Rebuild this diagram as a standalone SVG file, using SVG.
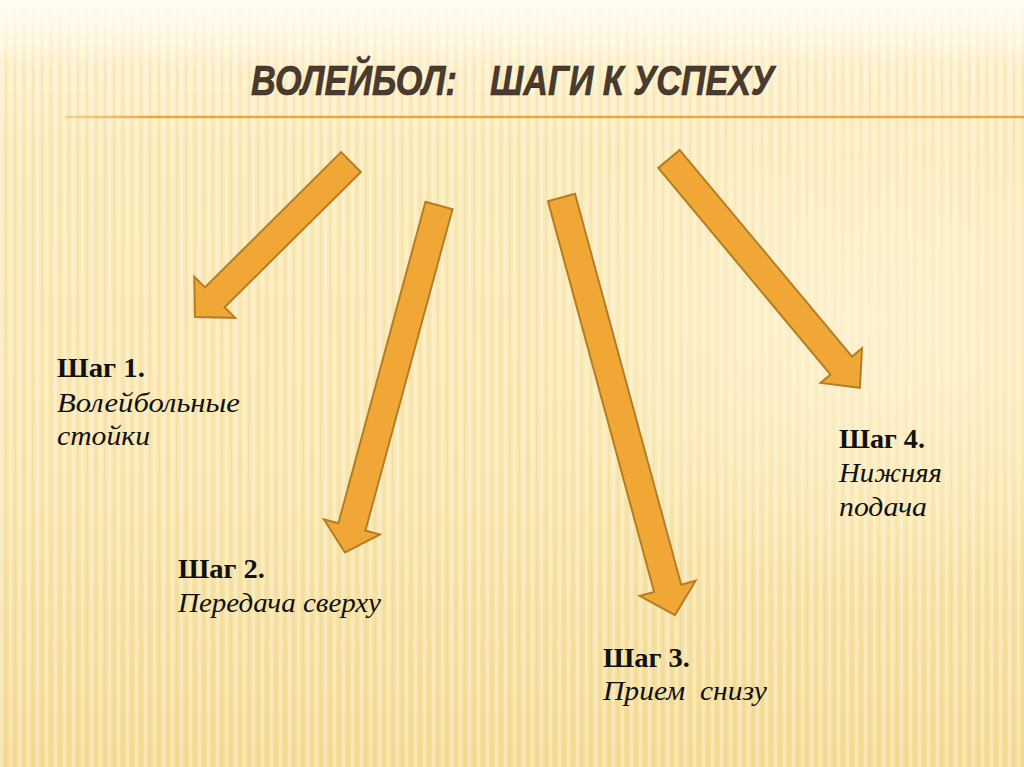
<svg xmlns="http://www.w3.org/2000/svg" width="1024" height="767" viewBox="0 0 1024 767">
  <defs>
    <linearGradient id="bg" x1="0" y1="0" x2="0" y2="1">
      <stop offset="0" stop-color="#FFF9E6"/>
      <stop offset="0.08" stop-color="#FDF0CA"/>
      <stop offset="0.2" stop-color="#FBEBBA"/>
      <stop offset="0.6" stop-color="#FAE8B2"/>
      <stop offset="1" stop-color="#F5DC98"/>
    </linearGradient>
    <radialGradient id="glow" cx="0.85" cy="0.42" r="0.35">
      <stop offset="0" stop-color="#FFF6DA" stop-opacity="0.7"/>
      <stop offset="1" stop-color="#FFF6DA" stop-opacity="0"/>
    </radialGradient>
    <linearGradient id="topfade" x1="0" y1="0" x2="0" y2="1">
      <stop offset="0" stop-color="#FFFCF2" stop-opacity="0.9"/>
      <stop offset="1" stop-color="#FFFCF2" stop-opacity="0"/>
    </linearGradient>
    <pattern id="stripes" width="9" height="20" patternUnits="userSpaceOnUse">
      <rect x="0" y="0" width="3" height="20" fill="#FFFFFF" opacity="0.28"/>
      <rect x="5" y="0" width="2" height="20" fill="#D9B766" opacity="0.12"/>
    </pattern>
    <linearGradient id="rule" gradientUnits="userSpaceOnUse" x1="65" y1="0" x2="1024" y2="0">
      <stop offset="0" stop-color="#E8A540" stop-opacity="0.4"/>
      <stop offset="0.1" stop-color="#E8A540"/>
      <stop offset="1" stop-color="#E8A540"/>
    </linearGradient>
    <style>
      .arrow { fill: #F1A736; stroke: #B47D25; stroke-width: 2; stroke-linejoin: miter; }
      .title { font-family: "Liberation Sans", "DejaVu Sans", sans-serif; font-weight: bold; font-style: italic; font-size: 42px; fill: #4A3B2E; stroke: #2E241B; stroke-width: 0.6; }
      .head { font-family: "Liberation Serif", "DejaVu Serif", serif; font-weight: bold; font-size: 27px; fill: #111111; }
      .body { font-family: "Liberation Serif", "DejaVu Serif", serif; font-style: italic; font-size: 27px; fill: #111111; }
    </style>
  </defs>

  <!-- background -->
  <rect x="0" y="0" width="1024" height="767" fill="url(#bg)"/>
  <rect x="0" y="0" width="1024" height="767" fill="url(#stripes)"/>
  <rect x="0" y="0" width="1024" height="767" fill="url(#glow)"/>
  <rect x="0" y="0" width="1024" height="70" fill="url(#topfade)"/>

  <!-- title -->
  <g id="title">
    <text class="title" x="251" y="95" textLength="206" lengthAdjust="spacingAndGlyphs">ВОЛЕЙБОЛ:</text>
    <text class="title" x="490" y="95" textLength="284" lengthAdjust="spacingAndGlyphs">ШАГИ К УСПЕХУ</text>
    <line x1="65" y1="117" x2="1024" y2="117" stroke="url(#rule)" stroke-width="2.5"/>
  </g>

  <!-- connectors -->
  <g id="connectors">
    <path class="arrow" transform="translate(351,162) rotate(135.2)" d="M0,-14 L192,-14 L192,-29 L220,0 L192,29 L192,14 L0,14 Z"/>
    <path class="arrow" transform="translate(439,205.5) rotate(105.16)" d="M0,-14 L333,-14 L333,-29 L359.5,0 L333,29 L333,14 L0,14 Z"/>
    <path class="arrow" transform="translate(561.5,197.5) rotate(74.8)" d="M0,-14 L405,-14 L405,-29 L432.7,0 L405,29 L405,14 L0,14 Z"/>
    <path class="arrow" transform="translate(669,159) rotate(50.17)" d="M0,-14 L269,-14 L269,-27 L298,0 L269,27 L269,14 L0,14 Z"/>
  </g>

  <!-- nodes -->
  <g id="step1">
    <text class="head" x="57" y="377" textLength="88" lengthAdjust="spacingAndGlyphs">Шаг 1.</text>
    <text class="body" x="57" y="412" textLength="183" lengthAdjust="spacingAndGlyphs">Волейбольные</text>
    <text class="body" x="57" y="445" textLength="93" lengthAdjust="spacingAndGlyphs">стойки</text>
  </g>
  <g id="step2">
    <text class="head" x="178" y="578" textLength="87" lengthAdjust="spacingAndGlyphs">Шаг 2.</text>
    <text class="body" x="178" y="612" textLength="203" lengthAdjust="spacingAndGlyphs">Передача сверху</text>
  </g>
  <g id="step3">
    <text class="head" x="603" y="667" textLength="87" lengthAdjust="spacingAndGlyphs">Шаг 3.</text>
    <text class="body" x="603" y="700" textLength="164" lengthAdjust="spacingAndGlyphs" xml:space="preserve">Прием  снизу</text>
  </g>
  <g id="step4">
    <text class="head" x="839" y="448" textLength="86" lengthAdjust="spacingAndGlyphs">Шаг 4.</text>
    <text class="body" x="839" y="482" textLength="103" lengthAdjust="spacingAndGlyphs">Нижняя</text>
    <text class="body" x="839" y="516" textLength="88" lengthAdjust="spacingAndGlyphs">подача</text>
  </g>
</svg>
